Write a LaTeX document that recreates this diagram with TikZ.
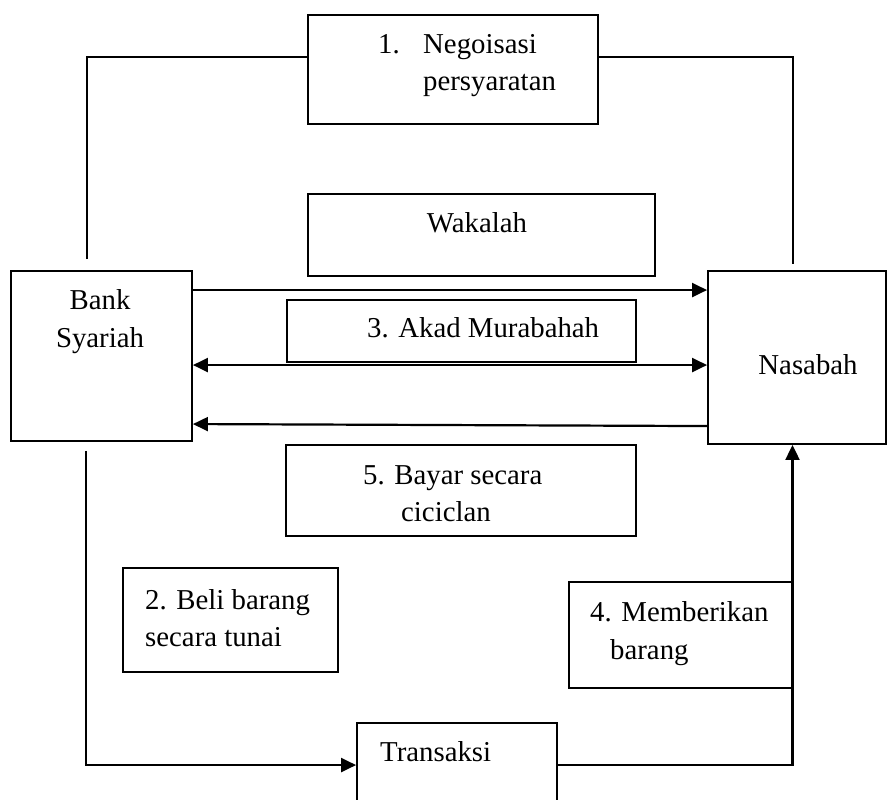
\documentclass[tikz,border=0pt]{standalone}
\usepackage{fontspec}
\setmainfont{Liberation Serif}
\usetikzlibrary{arrows.meta}
\begin{document}
\begin{tikzpicture}[x=1pt,y=-1pt,
 box/.style={draw, line width=1.9pt, rectangle, inner sep=0pt},
 txt/.style={inner sep=0pt, font=\fontsize{28.8}{37}\selectfont},
 con/.style={line width=2.2pt},
 arr/.style={con, -{Triangle[length=15pt,width=14pt]}},
 darr/.style={con, {Triangle[length=15pt,width=14pt]}-{Triangle[length=15pt,width=14pt]}}]
\useasboundingbox (0,0) rectangle (889,800);
% boxes
\node[box, minimum width=290pt, minimum height=109pt] (nego) at (453,69.5) {};
\node[box, minimum width=347pt, minimum height=82pt] (wak) at (481.5,235) {};
\node[box, minimum width=181pt, minimum height=170pt] (bank) at (101.5,356) {};
\node[box, minimum width=349pt, minimum height=62pt] (akad) at (461.5,331) {};
\node[box, minimum width=178pt, minimum height=173pt] (nas) at (797,357.5) {};
\node[box, minimum width=350pt, minimum height=91pt] (bayar) at (461,490.5) {};
\node[box, minimum width=215pt, minimum height=104pt] (beli) at (230.5,620) {};
\node[box, minimum width=224pt, minimum height=106pt] (memb) at (681,635) {};
\node[box, minimum width=200pt, minimum height=107pt] (trans) at (457,776.5) {};
% texts
\node[txt, anchor=base west] (t1a) at (378,54) {1.};
\node[txt, anchor=base west] (t1b) at (423,54) {Negoisasi};
\node[txt, anchor=base west] (t1c) at (423,91) {persyaratan};
\node[txt, anchor=base] (twak) at (477,232) {Wakalah};
\node[txt, anchor=base] (tb1) at (100,309) {Bank};
\node[txt, anchor=base] (tb2) at (100,347) {Syariah};
\node[txt, anchor=base west] (takad) at (367,337) {3. Akad Murabahah};
\node[txt, anchor=base] (tnas) at (808,374) {Nasabah};
\node[txt, anchor=base west] (tby1) at (363,484) {5. Bayar secara};
\node[txt, anchor=base west] (tby2) at (401,521) {ciciclan};
\node[txt, anchor=base west] (tbl1) at (145,609) {2. Beli barang};
\node[txt, anchor=base west] (tbl2) at (145,646) {secara tunai};
\node[txt, anchor=base west] (tm1) at (590,621) {4. Memberikan};
\node[txt, anchor=base west] (tm2) at (610,659) {barang};
\node[txt, anchor=base west] (ttr) at (380,761) {Transaksi};
% connectors
\draw[con] ([shift={(-14.5pt,11pt)}]bank.north) |- ([yshift=12.5pt]nego.west);
\draw[con] ([yshift=12.5pt]nego.east) -| ([shift={(-4pt,6pt)}]nas.north);
\draw[arr] ([yshift=-20pt]bank.north east) -- ([yshift=-20pt]nas.north west);
\draw[darr] ([yshift=-95pt]bank.north east) -- ([yshift=-95pt]nas.north west);
\draw[arr] ([yshift=-156pt]nas.north west) -- ([yshift=-154pt]bank.north east);
\draw[arr] ([shift={(-15.5pt,-9pt)}]bank.south) |- ([yshift=-43pt]trans.north west);
\draw[arr] ([yshift=-43pt]trans.north east) -| ([xshift=-4.5pt]nas.south);
\end{tikzpicture}
\end{document}
